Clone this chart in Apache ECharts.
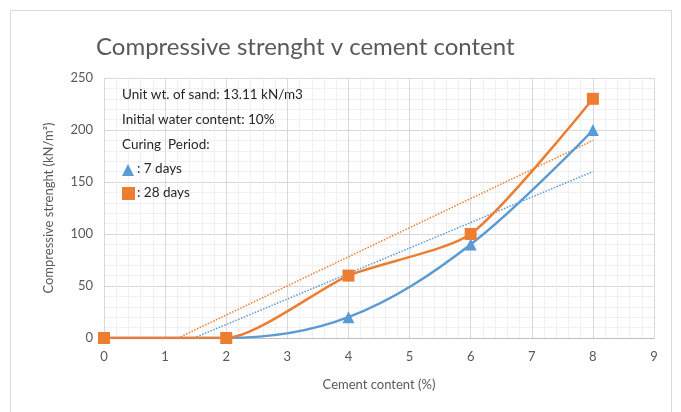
<!DOCTYPE html>
<html>
<head>
<meta charset="utf-8">
<script src="https://cdn.jsdelivr.net/npm/echarts@6/dist/echarts.min.js"></script>
<style>
  html, body { margin: 0; padding: 0; background: #fff; }
  #chart { width: 681px; height: 412px; }
</style>
</head>
<body>
<div id="chart"></div>
<script>
// Cement content (%) at which samples were tested
const cementContent = [0, 2, 4, 6, 8];
// Compressive strength (kN/m²) after each curing period
const strength7Days = [0, 0, 20, 90, 200];
const strength28Days = [0, 0, 60, 100, 230];
// Linear trend lines, as [x, y] end points
const trend7Days = [[1.47, 0], [8, 160]];
const trend28Days = [[1.21, 0], [8, 190]];
// Axis ticks
const xTicks = [0, 1, 2, 3, 4, 5, 6, 7, 8, 9];
const yTicks = [0, 50, 100, 150, 200, 250];

const BLUE = '#5B9BD5';
const ORANGE = '#ED7D31';
const FONT = 'Lato, "Open Sans", sans-serif';
const NOTE_FONT = '13.5px ' + FONT;

const pairs = (xs, ys) => xs.map((x, i) => [x, ys[i]]);

const chart = echarts.init(document.getElementById('chart'), null, { renderer: 'canvas' });

chart.setOption({
  backgroundColor: '#fff',
  animation: false,
  title: {
    text: 'Compressive strenght v cement content',
    left: 91,
    top: 30,
    textStyle: { fontFamily: FONT, fontSize: 24, fontWeight: 'normal', color: '#595959' }
  },
  grid: { left: 104, right: 27, top: 78, bottom: 74 },
  xAxis: {
    type: 'value',
    min: xTicks[0],
    max: xTicks[xTicks.length - 1],
    interval: 1,
    name: 'Cement content (%)',
    nameLocation: 'middle',
    nameGap: 40,
    nameTextStyle: { fontFamily: FONT, fontSize: 13, color: '#595959' },
    axisLine: { show: true, lineStyle: { color: '#bfbfbf', width: 1 } },
    axisTick: { show: false },
    axisLabel: { fontFamily: FONT, fontSize: 13, color: '#595959', margin: 12 },
    splitLine: { show: true, lineStyle: { color: '#d9d9d9', width: 1 } },
    minorTick: { show: false, splitNumber: 5 },
    minorSplitLine: { show: true, lineStyle: { color: '#f0f0f0', width: 1 } }
  },
  yAxis: {
    type: 'value',
    min: yTicks[0],
    max: yTicks[yTicks.length - 1],
    interval: 50,
    name: 'Compressive strenght (kN/m²)',
    nameLocation: 'middle',
    nameGap: 49,
    nameTextStyle: { fontFamily: FONT, fontSize: 13, color: '#595959' },
    axisLine: { show: false },
    axisTick: { show: false },
    axisLabel: { fontFamily: FONT, fontSize: 13, color: '#595959', margin: 11 },
    splitLine: { show: true, lineStyle: { color: '#d9d9d9', width: 1 } },
    minorTick: { show: false, splitNumber: 5 },
    minorSplitLine: { show: true, lineStyle: { color: '#f0f0f0', width: 1 } }
  },
  series: [
    {
      name: 'Trend 7 days',
      type: 'line',
      data: trend7Days,
      symbol: 'none',
      lineStyle: { color: BLUE, width: 1.5, type: 'dotted' },
      z: 3
    },
    {
      name: 'Trend 28 days',
      type: 'line',
      data: trend28Days,
      symbol: 'none',
      lineStyle: { color: ORANGE, width: 1.5, type: 'dotted' },
      z: 3
    },
    {
      name: '7 days',
      type: 'line',
      data: pairs(cementContent, strength7Days),
      smooth: 0.35,
      symbol: 'triangle',
      symbolSize: 12,
      itemStyle: { color: BLUE },
      lineStyle: { color: BLUE, width: 2.5 },
      z: 4
    },
    {
      name: '28 days',
      type: 'line',
      data: pairs(cementContent, strength28Days),
      smooth: 0.22,
      symbol: 'rect',
      symbolSize: 12,
      itemStyle: { color: ORANGE },
      lineStyle: { color: ORANGE, width: 2.5 },
      z: 5
    }
  ],
  graphic: [
    {
      type: 'rect',
      z: 0,
      shape: { x: 10.5, y: 10.5, width: 661, height: 420 },
      style: { fill: 'none', stroke: '#d9d9d9', lineWidth: 1 },
      silent: true
    },
    {
      type: 'group',
      left: 122,
      top: 88,
      z: 100,
      children: [
        { type: 'text', z: 100, x: 0, y: 0, style: { text: 'Unit wt. of sand: 13.11 kN/m3', font: NOTE_FONT, fill: '#262626' } },
        { type: 'text', z: 100, x: 0, y: 25, style: { text: 'Initial water content: 10%', font: NOTE_FONT, fill: '#262626' } },
        { type: 'text', z: 100, x: 0, y: 50, style: { text: 'Curing  Period:', font: NOTE_FONT, fill: '#262626' } },
        { type: 'polygon', z: 100, shape: { points: [[6, 76], [0, 88], [12, 88]] }, style: { fill: BLUE } },
        { type: 'text', z: 100, x: 15, y: 74, style: { text: ': 7 days', font: NOTE_FONT, fill: '#262626' } },
        { type: 'rect', z: 100, shape: { x: 0, y: 99, width: 13, height: 13 }, style: { fill: ORANGE } },
        { type: 'text', z: 100, x: 15, y: 98, style: { text: ': 28 days', font: NOTE_FONT, fill: '#262626' } }
      ]
    }
  ]
});
</script>
</body>
</html>
